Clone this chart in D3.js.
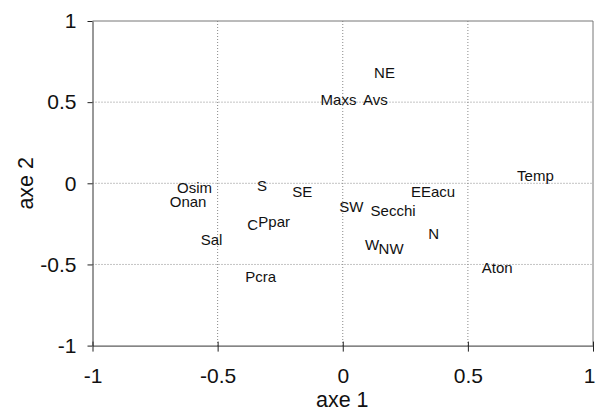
<!DOCTYPE html>
<html>
<head>
<meta charset="utf-8">
<script src="https://cdn.jsdelivr.net/npm/d3@7"></script>
<style>
  html, body { margin: 0; padding: 0; background: #ffffff; }
  svg { display: block; font-family: "Liberation Sans", Arial, sans-serif; }
</style>
</head>
<body>
<svg id="chart" width="596" height="412"></svg>
<script>
// ---- data ----
const labels = ["NE", "Maxs", "Avs", "Temp", "Osim", "S", "SE", "E", "Eacu", "Onan",
                "SW", "Secchi", "C", "Ppar", "N", "Sal", "W", "NW", "Aton", "Pcra"];
const axe1 = [0.167, -0.017, 0.130, 0.770, -0.592, -0.323, -0.162, 0.293, 0.381, -0.618,
              0.034, 0.201, -0.360, -0.274, 0.363, -0.524, 0.117, 0.193, 0.617, -0.328];
const axe2 = [0.681, 0.516, 0.513, 0.049, -0.026, -0.012, -0.049, -0.054, -0.054, -0.110,
              -0.144, -0.168, -0.256, -0.235, -0.310, -0.349, -0.377, -0.404, -0.517, -0.574];
const xTicks = [-1, -0.5, 0, 0.5, 1];
const yTicks = [-1, -0.5, 0, 0.5, 1];
const xTitle = "axe 1";
const yTitle = "axe 2";

// ---- layout ----
const svg = d3.select("#chart");
const L = 92.5, R = 593, T = 21, B = 345.6;
const x = d3.scaleLinear().domain([-1, 1]).range([L, R]);
const y = d3.scaleLinear().domain([-1, 1]).range([B, T]);
const fmt = d => d === 0 ? "0" : String(d);

// grid
const g = svg.append("g");
g.selectAll("line.gx").data(xTicks.filter(d => d > -1 && d < 1)).join("line")
  .attr("x1", d => x(d)).attr("x2", d => x(d)).attr("y1", T).attr("y2", B)
  .attr("stroke", "#888").attr("stroke-width", 1).attr("stroke-dasharray", "1,2");
g.selectAll("line.gy").data(yTicks.filter(d => d > -1 && d < 1)).join("line")
  .attr("x1", L).attr("x2", R).attr("y1", d => y(d)).attr("y2", d => y(d))
  .attr("stroke", "#888").attr("stroke-width", 1).attr("stroke-dasharray", "1,2");

// frame (top/right gray)
svg.append("line").attr("x1", L).attr("x2", R).attr("y1", T).attr("y2", T)
  .attr("stroke", "#777").attr("stroke-width", 1);
svg.append("line").attr("x1", R).attr("x2", R).attr("y1", T).attr("y2", B)
  .attr("stroke", "#777").attr("stroke-width", 1);

// x axis
const xAxis = svg.append("g").attr("transform", `translate(0,${B})`)
  .call(d3.axisBottom(x).tickValues(xTicks).tickFormat(fmt).tickSizeInner(6).tickSizeOuter(0).tickPadding(16));
xAxis.selectAll(".tick line").attr("y1", -4).attr("stroke", "#222");
xAxis.select(".domain").attr("stroke", "#333");
xAxis.selectAll("text").attr("font-size", 21).attr("fill", "#111")
  .attr("font-family", "'Liberation Sans', Arial, sans-serif");
// keep the last label inside the picture
xAxis.selectAll(".tick").filter(d => d === 1).select("text")
  .attr("text-anchor", "end").attr("x", 595 - R);

// y axis
const yAxis = svg.append("g").attr("transform", `translate(${L},0)`)
  .call(d3.axisLeft(y).tickValues(yTicks).tickFormat(fmt).tickSizeInner(5).tickSizeOuter(0).tickPadding(11));
yAxis.selectAll(".tick line").attr("stroke", "#222");
yAxis.select(".domain").attr("stroke", "#333");
yAxis.selectAll("text").attr("font-size", 21).attr("fill", "#111")
  .attr("font-family", "'Liberation Sans', Arial, sans-serif");

// axis titles
svg.append("text").attr("x", (L + R) / 2 - 0.5).attr("y", 407)
  .attr("text-anchor", "middle").attr("font-size", 21.5).attr("fill", "#111").text(xTitle);
svg.append("text").attr("transform", `translate(33,${(T + B) / 2}) rotate(-90)`)
  .attr("text-anchor", "middle").attr("font-size", 21.5).attr("fill", "#111").text(yTitle);

// point labels
const pts = labels.map((l, i) => ({ l, a: axe1[i], b: axe2[i] }));
svg.append("g").selectAll("text").data(pts).join("text")
  .attr("x", d => x(d.a)).attr("y", d => y(d.b)).attr("dy", "0.36em")
  .attr("text-anchor", "middle").attr("font-size", 15).attr("fill", "#111")
  .text(d => d.l);
</script>
</body>
</html>
